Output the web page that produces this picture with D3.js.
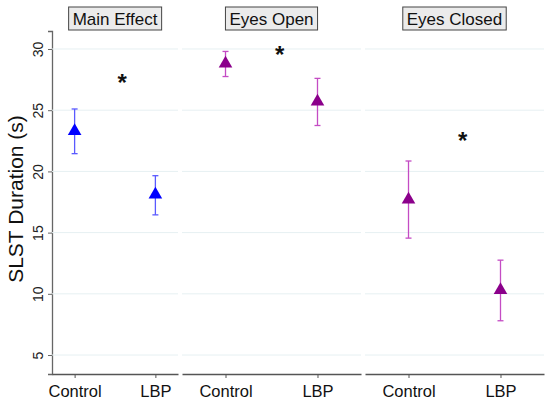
<!DOCTYPE html>
<html>
<head>
<meta charset="utf-8">
<script src="https://cdn.jsdelivr.net/npm/d3@7"></script>
<style>
  body { margin: 0; background: #fff; }
  svg text { font-family: "Liberation Sans", Arial, sans-serif; }
</style>
</head>
<body>
<div id="chart"></div>
<script>
// data
var panels = ["Main Effect", "Eyes Open", "Eyes Closed"];
var groups = ["Control", "LBP"];
var means = [[23.3, 18.1], [28.8, 25.7], [17.7, 10.3]];
var upper = [[25.1, 19.65], [29.8, 27.6], [20.85, 12.75]];
var lower = [[21.45, 16.45], [27.75, 23.75], [14.55, 7.8]];
var starY = [27.6, 29.9, 22.9];
var yTicks = [5, 10, 15, 20, 25, 30];

var width = 550, height = 402;
var panelX = [[52, 178], [182, 361], [365, 544]];
var panelPad = [0.28, 0.473, 0.473];
var markColor = ["#0000ff", "#8b008b", "#8b008b"];
var barColor = ["#5a5aff", "#c44cc4", "#c44cc4"];

var svg = d3.select("#chart").append("svg")
  .attr("width", width)
  .attr("height", height);

var y = d3.scaleLinear().domain([3.45, 31.47]).range([374, 31]);

// y axis
var yAxis = svg.append("g")
  .attr("transform", "translate(52,0)")
  .call(d3.axisLeft(y).tickValues(yTicks).tickSize(4).tickFormat(d3.format("d")));
yAxis.select(".domain").attr("stroke", "#666").attr("stroke-width", 1.3);
yAxis.selectAll(".tick line").attr("stroke", "#666");
yAxis.selectAll(".tick text")
  .attr("x", 0).attr("y", 0).attr("dy", null)
  .attr("transform", "translate(-9,0) rotate(-90)")
  .attr("text-anchor", "middle")
  .attr("font-size", 14)
  .attr("fill", "#222");

svg.append("text")
  .attr("transform", "translate(23,199) rotate(-90)")
  .attr("text-anchor", "middle")
  .attr("font-size", 21)
  .attr("fill", "#111")
  .text("SLST Duration (s)");

panels.forEach(function (name, p) {
  var x = d3.scalePoint().domain(groups).range(panelX[p]).padding(panelPad[p]);
  var g = svg.append("g");

  // gridlines
  g.selectAll("line.grid")
    .data(yTicks)
    .enter().append("line")
    .attr("class", "grid")
    .attr("x1", panelX[p][0]).attr("x2", panelX[p][1])
    .attr("y1", function (d) { return y(d); })
    .attr("y2", function (d) { return y(d); })
    .attr("stroke", "#e6f0f2")
    .attr("stroke-width", 1);

  // x axis
  var xAxis = g.append("g")
    .attr("transform", "translate(0,374)")
    .call(d3.axisBottom(x).tickSizeInner(4).tickSizeOuter(0));
  xAxis.select(".domain").attr("stroke", "#555").attr("stroke-width", 1.3);
  xAxis.selectAll(".tick line").attr("stroke", "#555");
  xAxis.selectAll(".tick text")
    .attr("y", 23).attr("dy", null)
    .attr("font-size", 16.5)
    .attr("fill", "#111");

  // error bars
  var rows = groups.map(function (gr, i) {
    return { g: gr, m: means[p][i], hi: upper[p][i], lo: lower[p][i] };
  });
  var eb = g.selectAll("g.eb").data(rows).enter().append("g")
    .attr("class", "eb")
    .attr("stroke", barColor[p]).attr("stroke-width", 1.3);
  eb.append("line")
    .attr("x1", function (d) { return x(d.g); }).attr("x2", function (d) { return x(d.g); })
    .attr("y1", function (d) { return y(d.hi); }).attr("y2", function (d) { return y(d.lo); });
  eb.append("line")
    .attr("x1", function (d) { return x(d.g) - 3; }).attr("x2", function (d) { return x(d.g) + 3; })
    .attr("y1", function (d) { return y(d.hi); }).attr("y2", function (d) { return y(d.hi); });
  eb.append("line")
    .attr("x1", function (d) { return x(d.g) - 3; }).attr("x2", function (d) { return x(d.g) + 3; })
    .attr("y1", function (d) { return y(d.lo); }).attr("y2", function (d) { return y(d.lo); });

  // markers
  g.selectAll("path.mk").data(rows).enter().append("path")
    .attr("class", "mk")
    .attr("d", d3.symbol().type(d3.symbolTriangle).size(80))
    .attr("transform", function (d) { return "translate(" + x(d.g) + "," + y(d.m) + ")"; })
    .attr("fill", markColor[p]);

  // significance star
  var sx = x(groups[0]) + 0.59 * (x(groups[1]) - x(groups[0]));
  g.append("text")
    .attr("x", sx).attr("y", y(starY[p]) + 13)
    .attr("text-anchor", "middle")
    .attr("font-size", 24)
    .attr("font-weight", "bold")
    .attr("fill", "#111")
    .text("*");

  // panel title box
  var cx = (panelX[p][0] + panelX[p][1]) / 2;
  var box = g.append("rect");
  var t = g.append("text")
    .attr("x", cx).attr("y", 25)
    .attr("text-anchor", "middle")
    .attr("font-size", 17)
    .attr("fill", "#111")
    .text(name);
  var bb = t.node().getBBox();
  box.attr("x", bb.x - 4).attr("y", 7)
    .attr("width", bb.width + 8).attr("height", 23)
    .attr("fill", "#ebebeb")
    .attr("stroke", "#444")
    .attr("stroke-width", 1);
});
</script>
</body>
</html>
